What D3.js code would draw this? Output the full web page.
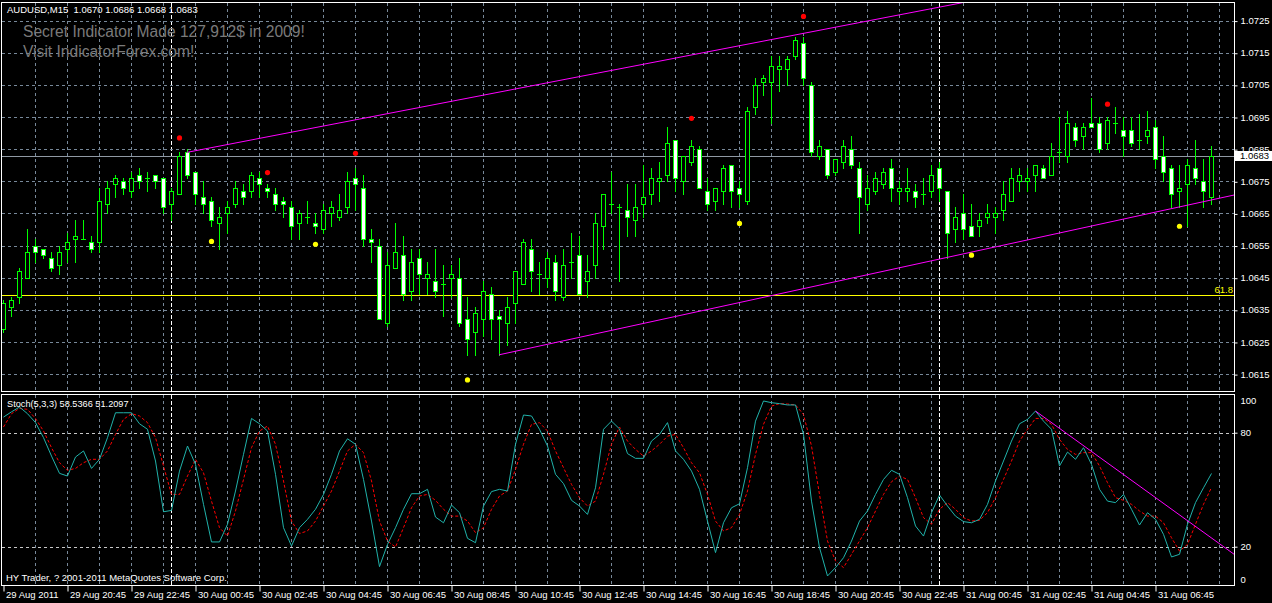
<!DOCTYPE html>
<html><head><meta charset="utf-8">
<script src="https://cdn.jsdelivr.net/npm/d3@7"></script>
<style>
html,body{margin:0;padding:0;background:#000;overflow:hidden;}
svg{display:block;}
text{font-family:"Liberation Sans",Arial,sans-serif;}
</style></head><body>
<svg id="chart" width="1272" height="603"></svg>
<script>
// ---------------- DATA ----------------
const headerText = "AUDUSD,M15  1.0670 1.0686 1.0668 1.0683";
const adLines = ["Secret Indicator Made 127,912$ in 2009!", "Visit IndicatorForex.com!"];
const stochLabel = "Stoch(5,3,3) 58.5366 51.2097";
const copyright = "HY Trader, ? 2001-2011 MetaQuotes Software Corp.";

const opens = [1.0629,1.0636,1.0639,1.0645,1.0655,1.0654,1.0651,1.0649,1.0654,1.0657,1.0657,1.0656,1.0656,1.0668,1.0674,1.0675,1.0672,1.0677,1.0676,1.0677,
1.0676,1.0668,1.0671,1.0684,1.0678,1.0670,1.0669,1.0662,1.0665,1.0668,1.0672,1.0672,1.0676,1.0673,1.0671,1.0669,1.0667,1.0662,1.0664,1.0662,
1.0660,1.0665,1.0664,1.0667,1.0676,1.0673,1.0657,1.0655,1.0631,1.0648,1.0652,1.0641,1.0651,1.0645,1.0644,1.0643,1.0645,1.0645,1.0632,1.0628,
1.0632,1.0640,1.0633,1.0631,1.0637,1.0643,1.0654,1.0646,1.0645,1.0650,1.0639,1.0650,1.0652,1.0644,1.0649,1.0661,1.0668,1.0667,1.0666,1.0663,
1.0668,1.0671,1.0675,1.0677,1.0688,1.0675,1.0681,1.0685,1.0672,1.0669,1.0672,1.0680,1.0673,1.0669,1.0698,1.0706,1.0706,1.0710,1.0710,1.0714,
1.0718,1.0705,1.0683,1.0685,1.0678,1.0681,1.0685,1.0679,1.0668,1.0672,1.0674,1.0679,1.0672,1.0672,1.0672,1.0671,1.0672,1.0679,1.0672,1.0660,
1.0665,1.0661,1.0661,1.0664,1.0664,1.0666,1.0669,1.0675,1.0675,1.0677,1.0679,1.0677,1.0684,1.0683,1.0692,1.0689,1.0693,1.0693,1.0687,1.0693,
1.0691,1.0691,1.0688,1.0689,1.0692,1.0683,1.0679,1.0672,1.0674,1.0679,1.0675,1.0670];
const highs = [1.0638,1.0639,1.0648,1.0660,1.0657,1.0654,1.0653,1.0655,1.0659,1.0663,1.0663,1.0658,1.0673,1.0675,1.0677,1.0676,1.0678,1.0679,1.0678,1.0677,
1.0676,1.0673,1.0684,1.0685,1.0678,1.0675,1.0670,1.0667,1.0669,1.0675,1.0674,1.0678,1.0678,1.0674,1.0673,1.0670,1.0669,1.0666,1.0669,1.0665,
1.0668,1.0669,1.0671,1.0678,1.0679,1.0677,1.0660,1.0657,1.0653,1.0662,1.0658,1.0654,1.0654,1.0650,1.0654,1.0649,1.0649,1.0651,1.0639,1.0636,
1.0644,1.0642,1.0635,1.0639,1.0647,1.0657,1.0657,1.0650,1.0653,1.0652,1.0654,1.0659,1.0658,1.0652,1.0665,1.0671,1.0678,1.0668,1.0674,1.0674,
1.0680,1.0679,1.0681,1.0692,1.0688,1.0683,1.0688,1.0686,1.0676,1.0673,1.0680,1.0680,1.0675,1.0698,1.0707,1.0708,1.0714,1.0714,1.0714,1.0720,
1.0720,1.0706,1.0688,1.0685,1.0682,1.0688,1.0689,1.0681,1.0677,1.0678,1.0679,1.0682,1.0675,1.0679,1.0674,1.0676,1.0680,1.0681,1.0672,1.0667,
1.0671,1.0668,1.0665,1.0668,1.0667,1.0675,1.0679,1.0679,1.0679,1.0680,1.0680,1.0687,1.0695,1.0697,1.0693,1.0693,1.0701,1.0695,1.0695,1.0698,
1.0695,1.0695,1.0696,1.0697,1.0694,1.0689,1.0680,1.0680,1.0682,1.0688,1.0682,1.0686];
const lows = [1.0628,1.0633,1.0637,1.0645,1.0650,1.0651,1.0647,1.0646,1.0650,1.0650,1.0657,1.0653,1.0653,1.0665,1.0670,1.0671,1.0670,1.0673,1.0672,1.0673,
1.0665,1.0663,1.0671,1.0676,1.0668,1.0665,1.0661,1.0654,1.0659,1.0667,1.0668,1.0670,1.0670,1.0670,1.0666,1.0664,1.0657,1.0657,1.0662,1.0659,
1.0659,1.0661,1.0663,1.0665,1.0666,1.0655,1.0650,1.0632,1.0630,1.0648,1.0638,1.0638,1.0640,1.0640,1.0639,1.0633,1.0639,1.0630,1.0621,1.0621,
1.0627,1.0626,1.0621,1.0624,1.0631,1.0643,1.0641,1.0640,1.0642,1.0638,1.0638,1.0645,1.0640,1.0639,1.0645,1.0654,1.0665,1.0644,1.0658,1.0658,
1.0664,1.0668,1.0669,1.0675,1.0672,1.0671,1.0680,1.0673,1.0666,1.0666,1.0668,1.0667,1.0667,1.0668,1.0696,1.0702,1.0693,1.0703,1.0705,1.0713,
1.0705,1.0683,1.0682,1.0676,1.0677,1.0679,1.0679,1.0659,1.0666,1.0671,1.0673,1.0669,1.0668,1.0669,1.0667,1.0668,1.0670,1.0669,1.0651,1.0656,
1.0657,1.0658,1.0658,1.0662,1.0659,1.0663,1.0669,1.0672,1.0672,1.0672,1.0676,1.0677,1.0681,1.0681,1.0686,1.0685,1.0692,1.0684,1.0685,1.0690,
1.0683,1.0686,1.0685,1.0687,1.0679,1.0675,1.0667,1.0667,1.0661,1.0674,1.0667,1.0668];
const closes = [1.0637,1.0638,1.0647,1.0653,1.0653,1.0652,1.0648,1.0653,1.0656,1.0658,1.0657,1.0654,1.0669,1.0673,1.0676,1.0673,1.0676,1.0675,1.0676,1.0675,
1.0667,1.0672,1.0683,1.0677,1.0671,1.0668,1.0663,1.0664,1.0667,1.0673,1.0670,1.0677,1.0674,1.0672,1.0668,1.0668,1.0661,1.0665,1.0664,1.0661,
1.0666,1.0667,1.0666,1.0675,1.0674,1.0657,1.0656,1.0632,1.0649,1.0653,1.0640,1.0650,1.0646,1.0646,1.0641,1.0643,1.0646,1.0631,1.0626,1.0634,
1.0641,1.0632,1.0632,1.0636,1.0647,1.0656,1.0647,1.0646,1.0651,1.0641,1.0649,1.0650,1.0640,1.0647,1.0662,1.0671,1.0668,1.0667,1.0664,1.0667,
1.0670,1.0676,1.0676,1.0687,1.0676,1.0683,1.0686,1.0673,1.0668,1.0673,1.0679,1.0672,1.0671,1.0697,1.0705,1.0707,1.0711,1.0711,1.0713,1.0719,
1.0707,1.0684,1.0686,1.0677,1.0682,1.0686,1.0680,1.0670,1.0673,1.0676,1.0678,1.0673,1.0673,1.0673,1.0670,1.0671,1.0677,1.0673,1.0659,1.0664,
1.0660,1.0658,1.0663,1.0665,1.0665,1.0671,1.0676,1.0677,1.0676,1.0680,1.0676,1.0683,1.0684,1.0693,1.0688,1.0692,1.0692,1.0685,1.0694,1.0693,
1.0689,1.0687,1.0688,1.0691,1.0682,1.0678,1.0671,1.0673,1.0680,1.0676,1.0672,1.0683];

const stochK = [88.2,91,93.5,90,85.3,77.4,67.7,58.6,57.2,67.2,70.4,61.2,66,77.4,90.5,90.5,90.5,84.7,81.8,65.1,
38.4,39.1,59.8,73,63.3,42.3,22.5,22.5,31.8,49.3,68.6,87.5,84.7,80.9,58.1,30,20.4,30,34.4,39.7,
47.5,58.1,70.4,76.8,73.9,55.4,33.5,9.5,21.2,30,39.7,47.9,47.9,50.2,35.6,32.6,41.9,37.9,24.4,22.1,
41.4,49,50.2,49.3,73.9,89.3,88.8,81.8,73,58.1,53.2,44.4,41.4,37,51,81.8,86.1,82,69,66.5,
66.5,75.6,79.1,85.3,70.4,66,59.8,50.2,33.5,16.9,32.6,40.5,42.6,61.6,86.1,96.7,95.8,95.3,94.6,94.6,
79.1,44,19.5,4.6,9,14.2,23,33.5,38.8,47.5,55.4,60.2,58.1,45.8,30.9,25.6,37.9,47.2,41.4,36.1,
33.2,32.6,34.4,42.3,54.6,65.1,75.6,84.7,87,91.4,86.1,81.8,62.5,69.8,66,72.1,63.3,50.2,44,43.2,
47.5,39.7,31.4,37.9,34.4,26.5,14.6,16,31.8,43.2,51,58.54];
const stochD = [83,90,92.8,92.3,87.5,80.9,72.1,64.2,60.2,61.2,64.2,66,66,70.4,79.1,87,90,88.8,85.3,77.4,
62.5,47.5,47.5,57.2,66,58.9,44,30,25.6,38.8,55.4,72.1,80.9,83.5,73.9,54.6,33.5,26.9,28.3,33.5,
41.4,49.3,59.8,70.4,73.9,69.5,54.6,33.5,23,19.8,30,40.5,46.7,47.5,44.4,39.7,36.1,36.1,33.5,27.4,
30,39.7,46.7,49.3,60.7,73.9,84.4,85.3,80.9,70.4,61.6,52.8,45.8,41.4,44,58.1,73.9,83,75.6,71.2,
67.7,70.4,73.9,78.2,79.1,72.1,64.2,58.9,47.5,33.5,28.3,30,37,49.3,68.6,84.4,94,95.3,95.1,94.6,
89.6,73,47.5,23,12.5,9,16,23,30,38.8,47.5,54.2,57.2,55.4,45.8,35.3,31.8,39.7,43.2,39.7,
35.3,33.5,33.9,37.9,45.8,55.4,65.1,75.6,81.8,87.5,87.5,84.4,76.5,71.2,68.6,69.5,69.5,62.5,53.7,45.8,
44.4,42.3,38.8,36.1,36.1,32.6,24.7,17.7,21.2,31.8,42.3,51.21];

const priceTicks = [1.0615,1.0625,1.0635,1.0645,1.0655,1.0665,1.0675,1.0685,1.0695,1.0705,1.0715,1.0725];
const stochTicks = [100,80,20,0];
const stochLevels = [80,20];
const timeTickBars = [0,8,16,24,32,40,48,56,64,72,80,88,96,104,112,120,128,136,144];
const timeTickLabels = ["29 Aug 2011","29 Aug 20:45","29 Aug 22:45","30 Aug 00:45","30 Aug 02:45","30 Aug 04:45","30 Aug 06:45",
"30 Aug 08:45","30 Aug 10:45","30 Aug 12:45","30 Aug 14:45","30 Aug 16:45","30 Aug 18:45","30 Aug 20:45","30 Aug 22:45",
"31 Aug 00:45","31 Aug 02:45","31 Aug 04:45","31 Aug 06:45"];
const daySeparatorBars = [21,117];

const fractalUpBars = [22,33,44,86,100,138];
const fractalUpPrices = [1.06885,1.06777,1.06837,1.06946,1.07263,1.06990];
const fractalDownBars = [26,39,58,92,121,147];
const fractalDownPrices = [1.06563,1.06554,1.06132,1.06619,1.06520,1.06610];

const priceTrendBars = [[23,100],[62,147]];
const priceTrendValues = [[1.0684,1.0721],[1.0621,1.0667]];
const stochTrendBars = [129,146];
const stochTrendValues = [91.4,39.9];

const fibLevel = "61.8";
const fibPrice = 1.06395;
const bidPrice = 1.0683;

// ---------------- LAYOUT ----------------
const N = opens.length;
const svg = d3.select("#chart");
const L = 2, R = 1234, MT = 3, MB = 391, ST = 395, SB = 585;

const x = d3.scaleLinear().domain([0, N-1]).range([3, 3 + 8*(N-1)]);
const y = d3.scaleLinear().domain([1.0615, 1.0725]).range([374.1, 20.6]);
const ys = d3.scaleLinear().domain([0, 100]).range([584.7, 394.7]);
const px = i => Math.round(x(i)) + 0.5;
const cr = v => Math.round(v) + 0.5;

svg.append("rect").attr("width",1272).attr("height",603).attr("fill","#000");

const defs = svg.append("defs");
defs.append("clipPath").attr("id","clipMain").append("rect").attr("x",L).attr("y",MT).attr("width",R-L).attr("height",MB-MT);
defs.append("clipPath").attr("id","clipStoch").append("rect").attr("x",L).attr("y",ST).attr("width",R-L).attr("height",SB-ST);

const gridColor = "#778899";
// vertical grid (every hour)
const vGridBars = d3.range(4, N + 1, 4);
[[MT,MB],[ST,SB]].forEach(([t,b]) => {
  svg.append("g").selectAll("line").data(vGridBars).join("line")
    .attr("x1",d=>px(d)).attr("x2",d=>px(d)).attr("y1",t).attr("y2",b)
    .attr("stroke",gridColor).attr("stroke-dasharray","3,3");
  svg.append("g").selectAll("line").data(daySeparatorBars).join("line")
    .attr("x1",d=>px(d)).attr("x2",d=>px(d)).attr("y1",t).attr("y2",b)
    .attr("stroke","#ffffff").attr("stroke-dasharray","4,2");
});
// horizontal price grid
svg.append("g").selectAll("line").data(priceTicks).join("line")
  .attr("x1",L).attr("x2",R).attr("y1",d=>cr(y(d))).attr("y2",d=>cr(y(d)))
  .attr("stroke",gridColor).attr("stroke-dasharray","3,3");
// stoch levels
svg.append("g").selectAll("line").data(stochLevels).join("line")
  .attr("x1",L).attr("x2",R).attr("y1",d=>cr(ys(d))).attr("y2",d=>cr(ys(d)))
  .attr("stroke","#c8c8c8").attr("stroke-dasharray","3,3");

// ---------------- MAIN PANEL ----------------
const gMain = svg.append("g").attr("clip-path","url(#clipMain)");

// fib line
gMain.append("line").attr("x1",L).attr("x2",R).attr("y1",cr(y(fibPrice))).attr("y2",cr(y(fibPrice)))
  .attr("stroke","#ffff00");
// bid line
gMain.append("line").attr("x1",L).attr("x2",R).attr("y1",cr(y(bidPrice))).attr("y2",cr(y(bidPrice)))
  .attr("stroke","#9099a3");

const bars = d3.range(N).map(i => ({i, o:opens[i], h:highs[i], l:lows[i], c:closes[i]}));
const green = "#00ff00";
gMain.append("g").selectAll("line").data(bars).join("line")
  .attr("x1",d=>px(d.i)).attr("x2",d=>px(d.i))
  .attr("y1",d=>Math.round(y(d.h))).attr("y2",d=>Math.round(y(d.l))+1)
  .attr("stroke",green);
gMain.append("g").selectAll("rect").data(bars.filter(d=>d.o!==d.c)).join("rect")
  .attr("x",d=>px(d.i)-2).attr("width",4)
  .attr("y",d=>cr(y(Math.max(d.o,d.c))))
  .attr("height",d=>Math.max(1, Math.round(y(Math.min(d.o,d.c))) - Math.round(y(Math.max(d.o,d.c)))))
  .attr("fill",d=>d.c>d.o ? "#000000" : "#ffffff")
  .attr("stroke",green);
gMain.append("g").selectAll("line").data(bars.filter(d=>d.o===d.c)).join("line")
  .attr("x1",d=>px(d.i)-2.5).attr("x2",d=>px(d.i)+2.5)
  .attr("y1",d=>cr(y(d.o))).attr("y2",d=>cr(y(d.o)))
  .attr("stroke",green);

// trend lines (rays to the right)
priceTrendBars.forEach((b, k) => {
  const v = priceTrendValues[k];
  const slope = (v[1]-v[0])/(b[1]-b[0]);
  const bEnd = x.invert(R + 2);
  gMain.append("line")
    .attr("x1",x(b[0])).attr("y1",y(v[0]))
    .attr("x2",x(bEnd)).attr("y2",y(v[0] + slope*(bEnd-b[0])))
    .attr("stroke","#ff00ff");
});

// fractals
gMain.append("g").selectAll("circle").data(fractalUpBars).join("circle")
  .attr("cx",d=>px(d)).attr("cy",(d,i)=>y(fractalUpPrices[i])).attr("r",2.6).attr("fill","#ff0000");
gMain.append("g").selectAll("circle").data(fractalDownBars).join("circle")
  .attr("cx",d=>px(d)).attr("cy",(d,i)=>y(fractalDownPrices[i])).attr("r",2.6).attr("fill","#ffff00");

// ---------------- STOCH PANEL ----------------
const gSt = svg.append("g").attr("clip-path","url(#clipStoch)");
const sLine = d3.line().x((d,i)=>x(i)+0.5).y(d=>ys(d));
gSt.append("path").datum(stochD).attr("d",sLine).attr("fill","none").attr("stroke","#ff0000").attr("stroke-dasharray","3,2");
gSt.append("path").datum(stochK).attr("d",sLine).attr("fill","none").attr("stroke","#20b2aa");
{
  const slope = (stochTrendValues[1]-stochTrendValues[0])/(stochTrendBars[1]-stochTrendBars[0]);
  const bEnd = x.invert(R + 2);
  gSt.append("line")
    .attr("x1",x(stochTrendBars[0])+0.5).attr("y1",ys(stochTrendValues[0]))
    .attr("x2",x(bEnd)).attr("y2",ys(stochTrendValues[0] + slope*(bEnd-stochTrendBars[0])))
    .attr("stroke","#ff00ff");
}

// ---------------- BORDERS ----------------
svg.append("rect").attr("x",1.5).attr("y",2.5).attr("width",R-1.5+0.5).attr("height",389)
  .attr("fill","none").attr("stroke","#fff");
svg.append("rect").attr("x",1.5).attr("y",394.5).attr("width",R-1.5+0.5).attr("height",191)
  .attr("fill","none").attr("stroke","#fff");

// ---------------- AXES ----------------
const fs = "9.5px";
const pAxis = svg.append("g").attr("transform",`translate(${R+0.5},0)`)
  .call(d3.axisRight(y).tickValues(priceTicks).tickSize(3).tickPadding(3).tickFormat(d3.format(".4f")));
pAxis.select(".domain").remove();
pAxis.selectAll(".tick line").attr("stroke","#fff").attr("transform","translate(0,0.5)");
pAxis.selectAll("text").attr("fill","#fff").style("font-size",fs).style("font-family","'Liberation Sans',Arial,sans-serif");

const sAxis = svg.append("g").attr("transform",`translate(${R+0.5},0)`)
  .call(d3.axisRight(ys).tickValues(stochTicks).tickSize(3).tickPadding(3));
sAxis.select(".domain").remove();
sAxis.selectAll(".tick line").attr("stroke","#fff").attr("opacity",d=>(d===100||d===0)?0:1);
sAxis.selectAll("text").attr("fill","#fff").style("font-size",fs).style("font-family","'Liberation Sans',Arial,sans-serif")
  .attr("y",d=>d===100?5.5:(d===0?-5:0));

const tAxis = svg.append("g").attr("transform",`translate(0.5,${SB+0.5})`)
  .call(d3.axisBottom(x).tickValues(timeTickBars).tickSize(6).tickFormat((d,i)=>timeTickLabels[i]));
tAxis.select(".domain").remove();
tAxis.selectAll(".tick line").attr("stroke","#fff");
tAxis.selectAll("text").attr("fill","#fff").style("font-size",fs).style("font-family","'Liberation Sans',Arial,sans-serif")
  .attr("text-anchor","start").attr("x",2).attr("y",12).attr("dy",null);

// bid price label box
svg.append("rect").attr("x",R+1).attr("y",Math.round(y(bidPrice))-5).attr("width",1272-R-1).attr("height",10).attr("fill","#fff");
svg.append("text").attr("x",R+6).attr("y",y(bidPrice)+3.5).attr("fill","#000").style("font-size",fs).text(d3.format(".4f")(bidPrice));

// fib label
svg.append("text").attr("x",R-1).attr("y",cr(y(fibPrice))-3).attr("text-anchor","end")
  .attr("fill","#ffff00").style("font-size",fs).text(fibLevel);

// ---------------- TEXTS ----------------
svg.append("text").attr("x",7).attr("y",12.7).attr("fill","#fff").style("font-size",fs).attr("xml:space","preserve").text(headerText);
svg.append("text").attr("x",23).attr("y",37.3).attr("fill","#7a7a7a").style("font-size","15.6px").text(adLines[0]);
svg.append("text").attr("x",23).attr("y",57.3).attr("fill","#7a7a7a").style("font-size","15.6px").text(adLines[1]);
svg.append("text").attr("x",7).attr("y",406.7).attr("fill","#fff").style("font-size","9.2px").text(stochLabel);
svg.append("text").attr("x",6).attr("y",580.7).attr("fill","#fff").style("font-size","9.5px").text(copyright);
</script>
</body></html>
